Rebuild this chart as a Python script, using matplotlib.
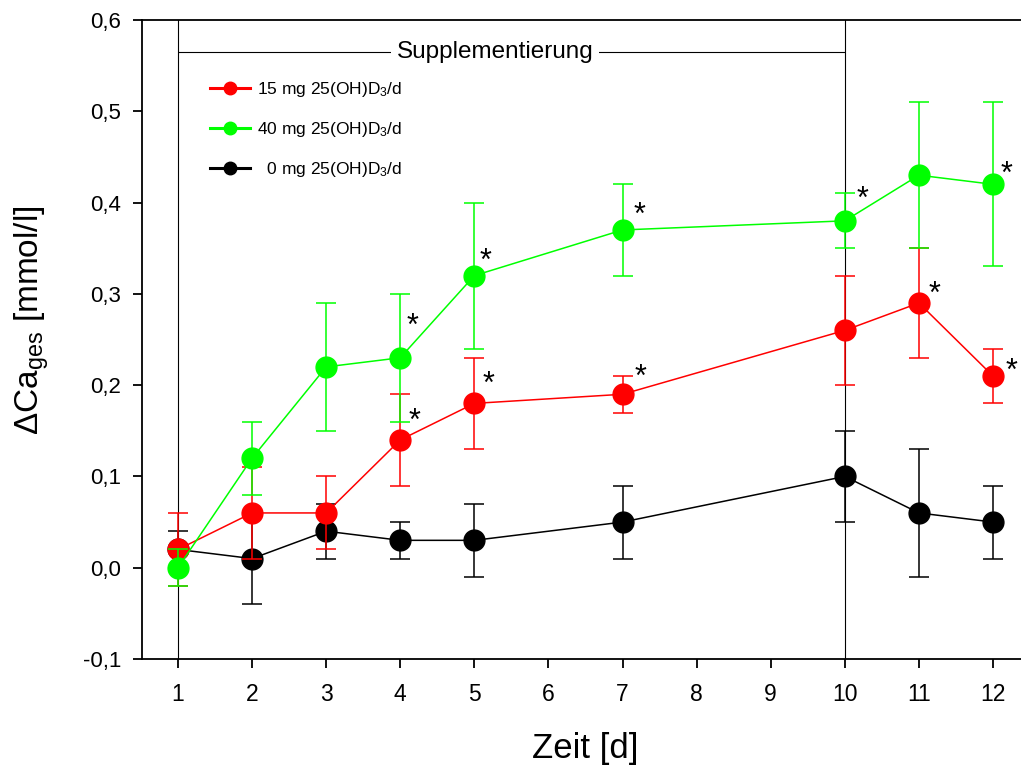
import matplotlib
matplotlib.use("Agg")
import matplotlib.pyplot as plt
from matplotlib.lines import Line2D
from matplotlib.ticker import FuncFormatter

plt.rcParams["font.family"] = ["Liberation Sans", "DejaVu Sans"]
plt.rcParams["mathtext.fontset"] = "custom"
plt.rcParams["mathtext.rm"] = "Liberation Sans"
plt.rcParams["mathtext.it"] = "Liberation Sans:italic"

# ---- data ----
days = [1, 2, 3, 4, 5, 7, 10, 11, 12]

ca_15 = [0.02, 0.06, 0.06, 0.14, 0.18, 0.19, 0.26, 0.29, 0.21]
err_15 = [0.04, 0.05, 0.04, 0.05, 0.05, 0.02, 0.06, 0.06, 0.03]

ca_40 = [0.00, 0.12, 0.22, 0.23, 0.32, 0.37, 0.38, 0.43, 0.42]
err_40 = [0.02, 0.04, 0.07, 0.07, 0.08, 0.05, 0.03, 0.08, 0.09]

ca_0 = [0.02, 0.01, 0.04, 0.03, 0.03, 0.05, 0.10, 0.06, 0.05]
err_0 = [0.02, 0.05, 0.03, 0.02, 0.04, 0.04, 0.05, 0.07, 0.04]

# days with significance stars
stars_15 = [4, 5, 7, 11, 12]
stars_40 = [4, 5, 7, 10, 12]

labels = ["15 mg 25(OH)D$_3$/d", "40 mg 25(OH)D$_3$/d", "  0 mg 25(OH)D$_3$/d"]
supp_start, supp_end = 1, 10

# star offsets in points (style only)
star_off_15 = [(10, 13), (10, 13), (13, 12), (11, 6), (13, 3)]
star_off_40 = [(9, 22), (8, 10), (12, 10), (13, 15), (10, 7)]

red, green, black = "#ff0000", "#00ff00", "#000000"

fig = plt.figure(figsize=(10.21, 7.69), dpi=100)
ax = fig.add_axes([142 / 1021, 1 - 659 / 769, 879 / 1021, 639 / 769])

# supplementation markers
ax.axvline(supp_start, color="black", lw=0.8, zorder=1)
ax.axvline(supp_end, color="black", lw=0.8, zorder=1)
ax.hlines(0.565, supp_start, supp_end, color="black", lw=0.8, zorder=1)
ax.text(supp_start + 4.28, 0.565, "Supplementierung",
        ha="center", va="center", fontsize=17.5,
        bbox=dict(facecolor="white", edgecolor="none", pad=4), zorder=2)

kw = dict(marker="o", ms=15, lw=1.1, elinewidth=1.1, capsize=7, capthick=1.1)
ax.errorbar(days, ca_0, yerr=err_0, color=black, zorder=3, **kw)
ax.errorbar(days, ca_15, yerr=err_15, color=red, zorder=4, **kw)
ax.errorbar(days, ca_40, yerr=err_40, color=green, zorder=5, **kw)

for d, off in zip(stars_15, star_off_15):
    ax.annotate("*", (d, ca_15[days.index(d)]), xytext=off, textcoords="offset points",
                ha="center", va="center", fontsize=22, zorder=6)
for d, off in zip(stars_40, star_off_40):
    ax.annotate("*", (d, ca_40[days.index(d)]), xytext=off, textcoords="offset points",
                ha="center", va="center", fontsize=22, zorder=6)

ax.set_xlim(1 - 36 / 74.09, 12 + 28 / 74.09)
ax.set_ylim(-0.1, 0.6)
ax.set_xticks(range(1, 13))
ax.set_yticks([-0.1, 0.0, 0.1, 0.2, 0.3, 0.4, 0.5, 0.6])
ax.yaxis.set_major_formatter(FuncFormatter(lambda v, p: f"{v:.1f}".replace(".", ",")))

for side in ["left", "bottom", "top"]:
    ax.spines[side].set_linewidth(1.3)
ax.spines["right"].set_visible(False)
ax.tick_params(direction="out", length=6.5, width=1.3)
ax.tick_params(axis="x", pad=11, labelsize=16.5)
ax.tick_params(axis="y", pad=8.5, labelsize=16)

ax.set_xlabel("Zeit [d]", fontsize=25)
ax.xaxis.set_label_coords(0.504, -0.14)
ax.xaxis.label.set_va("center")
ax.set_ylabel("$\\Delta$Ca$_\\mathregular{ges}$ [mmol/l]", fontsize=24)
ax.yaxis.set_label_coords(-0.125, 0.53)
ax.yaxis.label.set_va("center")

handles = [Line2D([], [], color=c, lw=2.2, marker="o", ms=9) for c in (red, green, black)]
ax.legend(handles, labels, loc="upper left", bbox_to_anchor=(0.077, 0.906),
          frameon=False, fontsize=12.5, handlelength=2.3, handletextpad=0.4,
          labelspacing=1.22, borderpad=0, borderaxespad=0)

fig.savefig("out.png", dpi=100)
